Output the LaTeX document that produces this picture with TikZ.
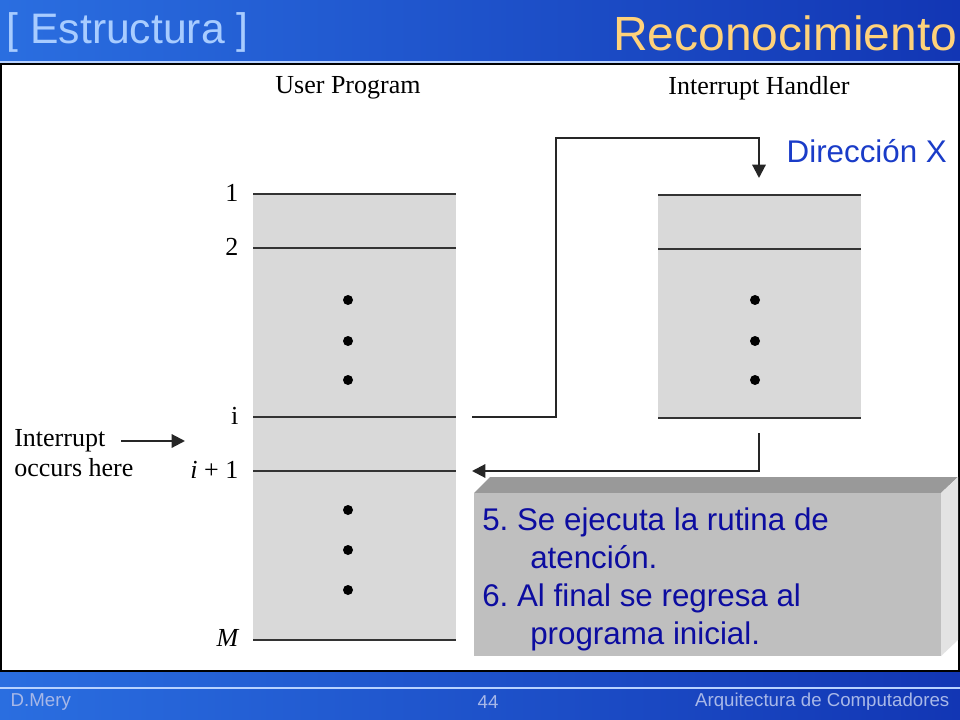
\documentclass[tikz,border=0pt]{standalone}
\usepackage{fontspec}
\setmainfont{Liberation Serif}
\setsansfont{Liberation Sans}
\usepackage{xcolor}
\usetikzlibrary{arrows.meta, positioning, calc}
\frenchspacing

\definecolor{bardark}{HTML}{0A1E9A}
\definecolor{barlight}{HTML}{2A6EE0}
\definecolor{barmid}{HTML}{1236B4}
\definecolor{barline}{HTML}{B8D2FF}
\definecolor{titleblue}{HTML}{A8CCFF}
\definecolor{titlegold}{HTML}{FFD27A}
\definecolor{footgrey}{HTML}{A8B8E8}
\definecolor{notetext}{HTML}{0C0CA0}
\definecolor{addrblue}{HTML}{1A3CC8}

\begin{document}
\begin{tikzpicture}[x=0.75pt, y=-0.75pt,
    cellfill/.style={fill=black!15},
    rowline/.style={line width=1.8pt, black!80},
    dot/.style={circle, fill=black, inner sep=0pt, minimum size=7.5pt},
    rowlbl/.style={anchor=east, font=\fontsize{19.5}{21}\selectfont},
    head/.style={font=\fontsize{19.5}{21}\selectfont},
    flow/.style={line width=1.6pt, black!85, -{Triangle[length=10pt, width=10pt]}},
    foot/.style={font=\sffamily\fontsize{14}{15}\selectfont, text=footgrey}]
\useasboundingbox (0,0) rectangle (960,720);

% Slide frame
\shade[left color=barlight, middle color=bardark, right color=barmid] (0,0) rectangle (960,63);
\shade[left color=barlight, middle color=bardark, right color=barmid] (0,671) rectangle (960,720);
\draw[barline, line width=1.2pt] (0,62) -- (960,62);
\draw[barline, line width=1.2pt] (0,688) -- (960,688);
\draw[fill=white, line width=1pt] (1,64) rectangle (959,671);

\node[anchor=west, font=\sffamily\fontsize{32}{36}\selectfont, text=titleblue] (sect) at (2,32) {[ Estructura ]};
\node[anchor=east, font=\sffamily\fontsize{36}{40}\selectfont, text=titlegold] (title) at (962,33) {Reconocimiento};

% User program
\fill[cellfill] (253,194) rectangle (456,640);
\foreach \y in {194,248,417,471,640} {
    \draw[rowline] (253,\y) -- (456,\y);
}
\foreach \y in {300,341,380,510,550,590} {
    \node[dot] at (348,\y) {};
}
\node[head] (user) at (348,88) {User Program};
\node[rowlbl] (r1) at (243,193) {1};
\node[rowlbl] (r2) at (243,247) {2};
\node[rowlbl] (ri) at (243,416) {i};
\node[rowlbl] (rnext) at (243,470) {\itshape i\upshape{} + 1};
\node[rowlbl] (rM) at (243,638) {\itshape M};

% Interrupt handler
\fill[cellfill] (658,195) rectangle (861,418);
\foreach \y in {195,249,418} {
    \draw[rowline] (658,\y) -- (861,\y);
}
\foreach \y in {300,341,380} {
    \node[dot] at (755,\y) {};
}
\node[head] (handler) at (759,88) {Interrupt Handler};

% Interrupt mark
\node[head, anchor=west, inner xsep=0pt] (intr) at (14,441) {Interrupt};
\node[head, anchor=west, inner xsep=0pt] (occurs) at (14,468) {occurs here};
\coordinate (intrtip) at (185,441);
\draw[flow, shorten <=12pt] (intr.east) -- (intrtip);

% Jump and return
\coordinate (jump) at (472,417);
\coordinate (handin) at (759,178);
\coordinate (handout) at (759,433);
\coordinate (back) at (472,471);
\draw[flow] (jump) -| (556,138) -| (handin);
\draw[flow] (handout) |- (back);
\node[anchor=west, font=\sffamily\fontsize{23.5}{26}\selectfont, text=addrblue] (addr) at (782,151) {Dirección X};

% Note box
\fill[black!40] (474,493) -- (490,477) -- (958,477) -- (941,493) -- cycle;
\fill[black!11] (941,493) -- (958,477) -- (958,640) -- (941,656) -- cycle;
\fill[black!25] (474,493) rectangle (941,656);
\node[anchor=north west, align=left, inner sep=0pt, text=notetext,
      font=\sffamily\fontsize{23.5}{28.5}\selectfont] (note) at (482,508)
    {5. Se ejecuta la rutina de\\\hspace*{36pt}atención.\\6. Al final se regresa al\\\hspace*{36pt}programa inicial.};

% Footer
\node[foot, anchor=west] (who) at (6,702) {D.Mery};
\node[foot] (page) at (488,702) {44};
\node[foot, anchor=east] (course) at (954,702) {Arquitectura de Computadores};
\end{tikzpicture}
\end{document}
